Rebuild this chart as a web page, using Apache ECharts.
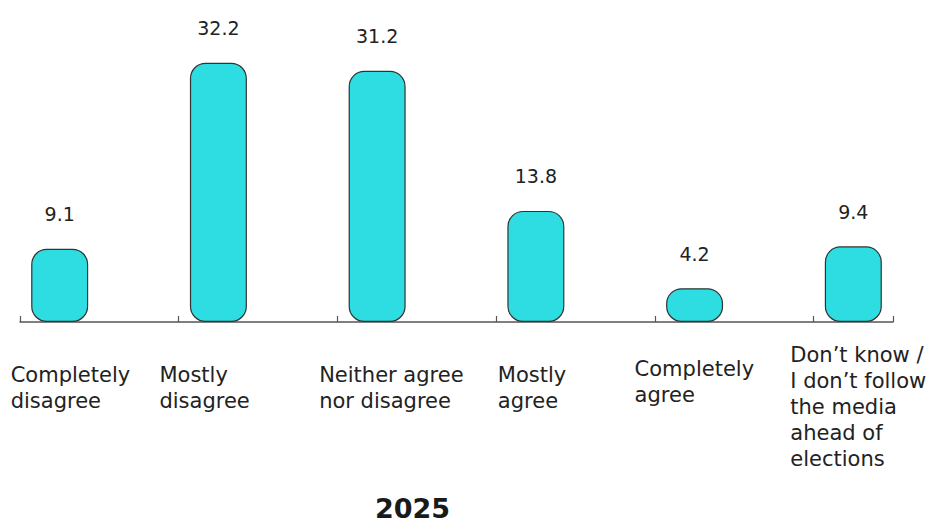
<!DOCTYPE html>
<html>
<head>
<meta charset="utf-8">
<script src="https://cdn.jsdelivr.net/npm/echarts@6/dist/echarts.min.js"></script>
<style>
  html, body { margin: 0; padding: 0; background: #ffffff; }
  #chart { width: 932px; height: 523px; }
</style>
</head>
<body>
<div id="chart"></div>
<script>
// Survey answers and their shares (%)
const categories = [
  'Completely\ndisagree',
  'Mostly\ndisagree',
  'Neither agree\nnor disagree',
  'Mostly\nagree',
  'Completely\nagree',
  'Don\u2019t know /\nI don\u2019t follow\nthe media\nahead of\nelections'
];
const values = [9.1, 32.2, 31.2, 13.8, 4.2, 9.4];
const yearTitle = '2025';

// Placement of each category caption relative to its band centre and the axis line
const captionOffsets = [
  [-49, 40], [-59, 40], [-58, 40], [-38, 40], [-60, 34], [-63, 20]
];

// Every answer sits in its own band, with an empty band between neighbours
const axisData = [];
const seriesData = [];
categories.forEach((c, i) => {
  if (i > 0) {
    axisData.push('gap' + i);
    seriesData.push('-');
  }
  axisData.push(c);
  seriesData.push(values[i]);
});

const FONT = '"DejaVu Sans", sans-serif';
const chart = echarts.init(document.getElementById('chart'), null, { renderer: 'svg' });

chart.setOption({
  animation: false,
  backgroundColor: '#ffffff',
  title: {
    text: yearTitle,
    left: 370,
    top: 490,
    textStyle: { fontFamily: FONT, fontSize: 27, fontWeight: 'bold', color: '#1a1a1a' }
  },
  grid: { left: 20, right: 39, top: 0, bottom: 201 },
  xAxis: {
    type: 'category',
    data: axisData,
    boundaryGap: true,
    axisLine: { lineStyle: { color: '#555555', width: 1.5 } },
    axisTick: { show: true, inside: true, length: 6, alignWithLabel: false, lineStyle: { color: '#555555', width: 1.2 } },
    axisLabel: { show: false }
  },
  yAxis: {
    type: 'value',
    min: 0,
    max: 40,
    show: false,
    splitLine: { show: false }
  },
  series: [{
    type: 'bar',
    data: seriesData,
    barWidth: 57,
    itemStyle: {
      color: '#2DDDE1',
      borderColor: '#333333',
      borderWidth: 1.2,
      borderRadius: 15
    },
    label: {
      show: true,
      position: 'top',
      distance: 25,
      fontFamily: FONT,
      fontSize: 19,
      color: '#222222',
      formatter: p => p.value.toFixed(1)
    }
  }]
});

// Category captions under the axis, anchored to each band centre
const axisY = chart.convertToPixel({ yAxisIndex: 0 }, 0);
const captions = categories.map((c, i) => {
  const cx = chart.convertToPixel({ xAxisIndex: 0 }, c);
  return {
    type: 'text',
    x: cx + captionOffsets[i][0],
    y: axisY + captionOffsets[i][1],
    style: {
      text: c,
      fill: '#222222',
      font: '21px ' + FONT,
      lineHeight: 26,
      textAlign: 'left',
      textVerticalAlign: 'top'
    }
  };
});
chart.setOption({ graphic: captions });
</script>
</body>
</html>
